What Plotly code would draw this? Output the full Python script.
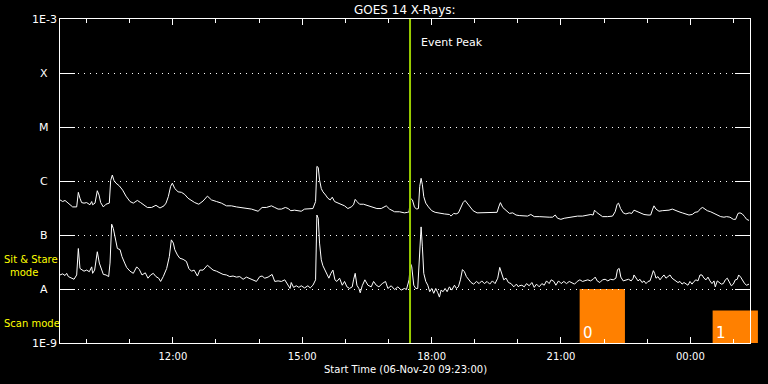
import numpy as np
import pandas as pd
import plotly.graph_objects as go

START = pd.Timestamp("2020-11-06 09:23:00")
END = pd.Timestamp("2020-11-07 01:23:00")
EVENT_PEAK = "2020-11-06 17:30"

# GOES 14 long channel (1-8 A): minutes after start, log10 flux (W/m^2)
long_min = [0, 3.7, 7.0, 10.2, 13.9, 17.6, 23.2, 25.5, 27.8, 30.1, 33.4, 37.1, 41.7, 44.1, 45.4, 48.7, 51.9, 54.3, 56.6, 60.3,
            64.0, 68.6, 70.5, 72.8, 75.1, 77.9, 82.5, 87.2, 91.8, 97.4, 102.0, 107.6, 112.2, 116.9, 121.5, 127.5, 133.5, 139.1, 144.7, 147.5,
            150.7, 153.9, 156.3,
            159.7, 164.3, 169.0, 173.6, 178.2, 182.9, 187.5, 193.1, 199.1, 205.1, 210.7, 217.7, 224.6, 231.6, 238.5, 245.5, 252.4, 259.4, 266.4, 275.6,
            281.2, 287.2, 294.2, 298.8, 303.4, 308.1, 313.6, 317.4, 321.1,
            326.4, 331.0, 335.6, 340.3, 344.9, 351.9, 355.6, 357.4, 359.3, 361.1, 363.5, 365.8, 369.5, 372.7, 376.0, 378.8, 382.0, 386.6, 391.3, 395.9,
            400.5, 405.2, 408.4, 410.7, 413.1, 416.8, 422.3, 428.4, 434.4, 440.9, 446.9, 453.9, 458.5, 465.5, 472.4,
            479.2, 483.8, 485.7, 487.5, 490.3, 493.1, 495.9, 498.7, 500.5, 502.4, 504.2, 506.1, 508.9, 512.6, 517.2, 521.9, 527.9, 534.8, 541.8, 544.1,
            547.8, 551.1, 554.3, 558.0, 560.8, 563.6, 566.4, 570.1, 574.7, 580.3, 585.9, 592.8, 599.8, 608.1, 610.4, 612.7, 616.0, 620.6, 625.3, 629.9,
            634.5,
            638.9, 645.9, 650.5, 655.1, 659.8, 666.7, 673.7, 680.6, 685.3, 689.0, 692.2, 696.9, 701.5, 706.1, 713.1, 720.0, 727.0, 734.0, 738.6, 741.8,
            743.7, 746.5, 750.2, 754.8, 761.8, 768.7, 772.4, 775.2, 777.1, 779.9, 783.6, 787.3, 791.9, 795.6,
            798.6, 803.2, 807.9, 812.5, 818.1, 821.8, 824.6, 826.4, 829.2, 833.4, 838.0, 842.7, 847.3, 851.9, 856.6, 861.2, 865.8, 870.5, 875.1, 879.7,
            883.5, 887.6, 891.3, 894.1, 896.9, 900.6, 905.3, 909.9, 914.5, 919.2, 923.8, 927.5, 932.1, 936.8, 940.0, 943.3, 946.1, 949.3, 952.5, 955.3,
            958.6]
long_log = [-6.35, -6.38, -6.36, -6.40, -6.44, -6.48, -6.48, -6.21, -6.32, -6.40, -6.41, -6.40, -6.44, -6.38, -6.44, -6.41, -6.18, -6.26, -6.40, -6.48,
            -6.43, -6.41, -5.99, -5.89, -5.99, -6.04, -6.09, -6.17, -6.28, -6.38, -6.41, -6.36, -6.40, -6.44, -6.49, -6.49, -6.45, -6.50, -6.46, -6.41,
            -6.29, -6.10, -6.04,
            -6.14, -6.20, -6.21, -6.25, -6.32, -6.36, -6.40, -6.43, -6.37, -6.28, -6.35, -6.38, -6.41, -6.46, -6.46, -6.48, -6.49, -6.51, -6.52, -6.56,
            -6.49, -6.49, -6.46, -6.49, -6.52, -6.52, -6.49, -6.51, -6.55,
            -6.54, -6.55, -6.56, -6.52, -6.52, -6.51, -6.38, -5.73, -5.75, -5.98, -6.14, -6.20, -6.26, -6.32, -6.35, -6.30, -6.38, -6.41, -6.43, -6.46,
            -6.51, -6.48, -6.44, -6.34, -6.38, -6.43, -6.43, -6.46, -6.48, -6.51, -6.51, -6.46, -6.52, -6.57, -6.57,
            -6.59, -6.58, -6.57, -6.32, -6.35, -6.48, -6.52, -6.51, -6.10, -5.95, -6.07, -6.29, -6.41, -6.48, -6.55, -6.58, -6.60, -6.61, -6.62, -6.65,
            -6.60, -6.61, -6.59, -6.48, -6.40, -6.36, -6.41, -6.49, -6.55, -6.59, -6.59, -6.58, -6.58, -6.58, -6.48, -6.40, -6.49, -6.55, -6.60, -6.59,
            -6.63,
            -6.64, -6.64, -6.65, -6.62, -6.66, -6.66, -6.67, -6.67, -6.67, -6.63, -6.69, -6.71, -6.69, -6.68, -6.66, -6.65, -6.65, -6.64, -6.62, -6.63,
            -6.54, -6.58, -6.62, -6.66, -6.66, -6.65, -6.57, -6.43, -6.41, -6.51, -6.59, -6.61, -6.59, -6.60,
            -6.54, -6.57, -6.60, -6.62, -6.63, -6.63, -6.52, -6.46, -6.52, -6.56, -6.55, -6.55, -6.54, -6.52, -6.55, -6.57, -6.59, -6.61, -6.63, -6.62,
            -6.58, -6.57, -6.51, -6.49, -6.52, -6.55, -6.57, -6.60, -6.63, -6.66, -6.67, -6.66, -6.67, -6.71, -6.71, -6.60, -6.59, -6.61, -6.66, -6.71,
            -6.73]

# GOES 14 short channel (0.5-4 A)
short_min = [0, 3.7, 7.0, 9.3, 11.6, 14.8, 19.5, 23.2, 25.5, 27.8, 30.6, 33.4, 37.1, 40.8, 44.1, 45.4, 48.2, 51.9, 54.7, 57.5,
             60.3, 64.0, 67.7, 69.6, 71.9, 74.2, 77.0, 79.8, 83.5, 86.2, 90.0, 92.7, 97.4, 102.0, 106.7, 110.4, 114.1, 118.7, 122.4, 126.1,
             129.8, 133.5, 137.3, 140.0, 143.7, 148.4, 152.1, 154.9, 157.7,
             159.7, 163.4, 166.7, 171.3, 175.9, 179.2, 182.9, 186.6, 191.2, 194.5, 199.1, 205.1, 208.4, 213.0, 217.7, 222.3, 226.9, 231.6, 236.2, 240.8,
             245.5, 250.1, 254.8, 259.4, 264.0, 268.7, 273.3, 277.9, 281.2, 284.9, 289.5, 295.1, 298.8, 303.4, 308.1, 312.7, 317.4, 320.1,
             321.7, 325.0, 328.7, 332.4, 335.6, 340.3, 344.9, 348.1, 351.9, 355.6, 357.4, 359.3, 361.1, 363.5, 365.8, 368.6, 371.3, 374.1, 376.9, 379.7,
             382.5, 385.2, 389.0, 392.7, 395.9, 399.2, 402.9, 406.6, 408.4, 410.7, 413.1, 415.8, 417.7, 420.5, 424.2, 428.4, 433.0, 436.3, 440.0, 443.7,
             448.3, 452.9, 456.2, 460.8, 465.5, 470.1, 474.7,
             479.2, 482.0, 483.8, 485.7, 487.5, 489.4, 492.2, 495.0, 497.7, 499.6, 501.5, 502.4, 504.2, 506.1, 508.9, 511.7, 514.4, 517.2, 520.0, 522.8,
             525.6, 527.9, 530.2, 533.0, 535.8, 538.6, 541.8, 545.0, 548.8, 551.5, 554.3, 557.1, 559.9, 562.7, 565.4, 569.2, 571.9, 575.6, 579.4, 583.1,
             586.8, 590.5, 594.2, 597.9, 601.6, 605.3, 609.0, 611.8, 614.6, 617.4, 620.6, 623.9, 627.6, 631.3, 635.0, 637.8,
             638.9, 642.6, 645.9, 649.1, 652.8, 656.5, 659.8, 663.0, 666.7, 670.4, 673.7, 676.9, 680.6, 683.4, 687.1, 689.9, 693.6, 697.3, 701.0, 704.7,
             708.5, 712.2, 715.9, 719.6, 723.3, 727.0, 730.7, 734.4, 738.1, 741.8, 744.6, 747.4, 751.1, 754.8, 758.5, 762.2, 766.0, 769.7, 773.4, 775.7,
             778.0, 780.3, 783.6, 787.3, 791.0, 794.7, 797.5,
             798.6, 801.4, 804.2, 806.9, 809.7, 812.5, 815.3, 818.1, 820.9, 823.6, 825.5, 827.3, 829.2, 832.0, 834.8, 837.6, 840.3, 843.1, 845.9, 848.7,
             851.5, 854.2, 857.0, 859.8, 862.6, 865.4, 868.2, 870.9, 873.7, 876.5, 879.3, 882.1, 884.8, 887.6, 890.4, 893.2, 896.0, 898.8, 901.5, 904.3,
             907.1, 909.9, 911.7, 914.5, 917.3, 920.1, 922.9, 925.7, 928.4, 931.2, 934.0, 936.8, 939.6, 942.3, 944.2, 947.0, 949.8, 952.5, 955.3, 958.6]
short_log = [-7.74, -7.72, -7.75, -7.71, -7.77, -7.79, -7.82, -7.74, -7.25, -7.62, -7.65, -7.67, -7.65, -7.68, -7.59, -7.71, -7.65, -7.31, -7.52, -7.65,
             -7.73, -7.74, -7.77, -7.52, -6.80, -6.88, -7.06, -7.25, -7.27, -7.40, -7.52, -7.60, -7.67, -7.71, -7.59, -7.64, -7.74, -7.70, -7.80, -7.74,
             -7.71, -7.77, -7.80, -7.86, -7.77, -7.62, -7.40, -7.09, -7.15,
             -7.27, -7.37, -7.43, -7.45, -7.49, -7.62, -7.67, -7.65, -7.76, -7.65, -7.65, -7.56, -7.60, -7.65, -7.67, -7.70, -7.73, -7.74, -7.77, -7.76,
             -7.78, -7.77, -7.82, -7.78, -7.81, -7.83, -7.86, -7.77, -7.76, -7.80, -7.78, -7.73, -7.86, -7.85, -7.86, -7.83, -7.93, -7.99,
             -7.88, -7.97, -7.94, -7.97, -7.94, -7.98, -7.94, -7.98, -7.93, -7.83, -6.63, -6.69, -7.15, -7.46, -7.57, -7.65, -7.74, -7.80, -7.71, -7.65,
             -7.83, -7.86, -7.80, -7.93, -7.86, -7.96, -7.99, -7.96, -7.83, -7.71, -7.93, -7.99, -8.07, -7.94, -7.83, -7.93, -7.96, -7.86, -7.93, -7.96,
             -7.90, -7.86, -7.99, -7.94, -8.01, -7.96, -8.02,
             -7.99, -8.01, -7.94, -7.83, -7.52, -7.59, -7.93, -7.99, -7.99, -7.46, -6.88, -6.85, -7.22, -7.71, -7.86, -7.93, -8.05, -7.99, -8.08, -7.99,
             -8.07, -8.15, -8.02, -8.05, -7.99, -8.05, -7.96, -8.02, -7.93, -7.99, -7.96, -7.83, -7.64, -7.68, -7.77, -7.83, -7.88, -7.91, -7.86, -7.90,
             -7.85, -7.90, -7.86, -7.91, -7.85, -7.90, -7.80, -7.60, -7.71, -7.83, -7.80, -7.88, -7.90, -7.96, -7.91, -7.96,
             -7.94, -7.93, -7.96, -7.90, -7.94, -7.88, -7.97, -7.91, -7.96, -7.90, -7.93, -7.85, -7.90, -7.83, -7.86, -7.93, -7.85, -7.90, -7.86, -7.90,
             -7.86, -7.88, -7.91, -7.86, -7.83, -7.86, -7.85, -7.83, -7.85, -7.82, -7.78, -7.85, -7.88, -7.83, -7.82, -7.85, -7.82, -7.83, -7.80, -7.64,
             -7.62, -7.78, -7.85, -7.83, -7.82, -7.85, -7.80,
             -7.74, -7.80, -7.85, -7.82, -7.88, -7.85, -7.90, -7.86, -7.85, -7.74, -7.66, -7.71, -7.80, -7.77, -7.83, -7.78, -7.74, -7.80, -7.77, -7.74,
             -7.80, -7.83, -7.85, -7.88, -7.86, -7.91, -7.88, -7.90, -7.93, -7.86, -7.91, -7.86, -7.83, -7.85, -7.74, -7.74, -7.80, -7.83, -7.78, -7.85,
             -7.90, -7.85, -7.96, -7.85, -7.88, -7.91, -7.90, -7.83, -7.80, -7.86, -7.94, -7.91, -7.83, -7.82, -7.74, -7.78, -7.85, -7.90, -7.93, -7.91]

# Observing-mode blocks
mode_start = ["2020-11-06 21:26", "2020-11-07 00:31"]
mode_end = ["2020-11-06 22:29", "2020-11-07 01:34"]
mode_top = [1e-8, 4e-9]
mode_label = ["0", "1"]

# Y axis labels (GOES classes)
class_vals = [1e-3, 1e-4, 1e-5, 1e-6, 1e-7, 1e-8, 1e-9]
class_text = ["1E-3", "X", "M", "C", "B", "A", "1E-9"]

FLOOR = 1e-9
FONT = "DejaVu Sans"

t_long = START + pd.to_timedelta(np.array(long_min), unit="min")
t_short = START + pd.to_timedelta(np.array(short_min), unit="min")

fig = go.Figure()
fig.add_trace(go.Scatter(x=t_long, y=10 ** np.array(long_log), mode="lines",
                         line=dict(color="white", width=1), showlegend=False))
fig.add_trace(go.Scatter(x=t_short, y=10 ** np.array(short_log), mode="lines",
                         line=dict(color="white", width=1), showlegend=False))

span = END - START
def frac(t):
    return (pd.Timestamp(t) - START) / span

# mode blocks as shapes (x as fraction of the time axis so the last one may overhang the frame)
for s, e, top in zip(mode_start, mode_end, mode_top):
    fig.add_shape(type="rect", xref="paper", x0=frac(s), x1=frac(e), yref="y", y0=FLOOR, y1=top,
                  fillcolor="#ff8000", line=dict(width=0), layer="between")

annotations = []
for v, t in zip(class_vals, class_text):
    annotations.append(dict(x=0, xref="paper", xshift=-16, y=np.log10(v), yref="y",
                            text=t, showarrow=False, xanchor="center", yanchor="middle",
                            font=dict(color="white", size=11, family=FONT)))
for s, lab in zip(mode_start, mode_label):
    annotations.append(dict(x=frac(s), xref="paper", y=0.031, yref="paper", text=lab, showarrow=False,
                            xanchor="left", yanchor="middle", xshift=1,
                            font=dict(color="white", size=15, family=FONT)))
annotations += [
    dict(x=0.5, xref="paper", y=1, yref="paper", yshift=9, text="GOES 14 X-Rays:", showarrow=False,
         xanchor="center", yanchor="middle", font=dict(color="white", size=12, family=FONT)),
    dict(x=0.5, xref="paper", y=0, yref="paper", yshift=-26, text="Start Time (06-Nov-20 09:23:00)",
         showarrow=False, xanchor="center", yanchor="middle", font=dict(color="white", size=10, family=FONT)),
    dict(x=EVENT_PEAK, xref="x", y=0.926, yref="paper", xshift=9, text="Event Peak", showarrow=False,
         xanchor="left", yanchor="middle", font=dict(color="white", size=11, family=FONT)),
    dict(x=0, xref="paper", xshift=-58, y=0.259, yref="paper", text="Sit & Stare", showarrow=False,
         xanchor="left", yanchor="middle", font=dict(color="#ffff00", size=10, family=FONT)),
    dict(x=0, xref="paper", xshift=-36, y=0.219, yref="paper", text="mode", showarrow=False,
         xanchor="center", yanchor="middle", font=dict(color="#ffff00", size=10, family=FONT)),
    dict(x=0, xref="paper", xshift=-58, y=0.059, yref="paper", text="Scan mode", showarrow=False,
         xanchor="left", yanchor="middle", font=dict(color="#ffff00", size=10, family=FONT)),
]

fig.add_shape(type="line", x0=EVENT_PEAK, x1=EVENT_PEAK, xref="x", y0=0, y1=1, yref="paper",
              line=dict(color="#99cc00", width=2))

fig.update_layout(
    width=768, height=384,
    margin=dict(l=60, r=18, t=19, b=41),
    paper_bgcolor="black", plot_bgcolor="black",
    annotations=annotations,
    xaxis=dict(type="date", range=[START, END], tickformat="%H:%M",
               dtick=3 * 3600 * 1000, tick0="2020-11-06 00:00",
               ticks="inside", ticklen=6, tickcolor="white", tickwidth=1,
               minor=dict(dtick=3600 * 1000, ticks="inside", ticklen=4, tickcolor="white", showgrid=False),
               showline=True, linecolor="white", linewidth=1, mirror="allticks",
               showgrid=False, zeroline=False, ticklabelstandoff=4,
               tickfont=dict(color="white", size=10, family=FONT)),
    yaxis=dict(type="log", range=[-9, -3], tickvals=class_vals[1:-1], showticklabels=False,
               ticks="inside", ticklen=15, tickcolor="white", tickwidth=1,
               showline=True, linecolor="white", linewidth=1, mirror="allticks",
               showgrid=True, gridcolor="white", gridwidth=1, griddash="1px,5px",
               zeroline=False),
)

fig.write_html("out.html")
